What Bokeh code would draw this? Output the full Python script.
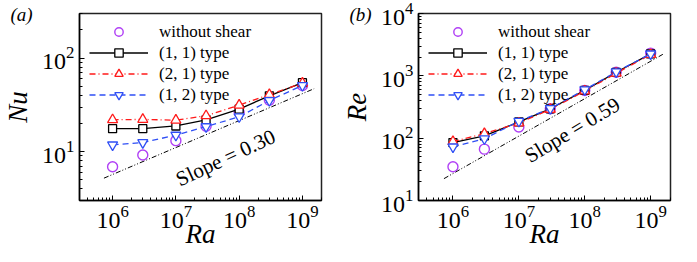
import math
from bokeh.plotting import figure
from bokeh.models import Range1d, FixedTicker, Legend, LegendItem, Label
from bokeh.layouts import row
from bokeh.embed import file_html
from bokeh.resources import INLINE

# ---- data ----
ra = [1e6, 3e6, 1e7, 3e7, 1e8, 3e8, 1e9]
nu_noshear = [6.9, 9.2, 13.1, 18.7, 26.2, 35.5, 51.0]
nu_11 = [17.6, 17.6, 18.8, 21.9, 28.5, 39.5, 54.6]
nu_21 = [21.9, 22.1, 21.7, 24.2, 31.4, 40.7, 54.0]
nu_12 = [11.8, 12.5, 15.0, 18.5, 23.6, 35.2, 51.0]
re_noshear = [34.8, 66.7, 151, 296, 582, 1140, 2317]
re_11 = [85, 109, 182, 296, 585, 1140, 2250]
re_21 = [88, 118, 175, 290, 570, 1100, 2200]
re_12 = [72.5, 98, 187, 300, 600, 1160, 2250]
slope_ra = [7.3e5, 1.53e9]
slope_nu = [5.2, 47.1]
slope_re = [22.4, 2214]

series_labels = ["without shear", "(1, 1) type", "(2, 1) type", "(1, 2) type"]
x_major = [1e6, 1e7, 1e8, 1e9]
nu_major = [10, 100]
re_major = [10, 100, 1000, 10000]

FONT = "Liberation Serif"
PURPLE = "#b040f5"
RED = "#ff1a1a"
BLUE = "#2f4ff5"


def minors(lo_exp, hi_exp, lo, hi):
    out = []
    for e in range(lo_exp, hi_exp + 1):
        for m in range(2, 10):
            v = m * 10.0 ** e
            if lo <= v <= hi:
                out.append(v)
    return out


def make_panel(yvals, ylab, yrange, ymajor, slope_y, slope_text, slope_pos,
               slope_angle, tag, width, mbl, mbr):
    xr = (3e5, 2e9)
    p = figure(width=width, height=258, x_axis_type="log", y_axis_type="log",
               x_range=Range1d(*xr), y_range=Range1d(*yrange),
               output_backend="svg", toolbar_location=None,
               min_border_left=mbl, min_border_right=mbr,
               min_border_top=13, min_border_bottom=58)
    p.grid.visible = False
    p.outline_line_color = "#222222"
    p.outline_line_width = 1.5
    p.xaxis[0].ticker = FixedTicker(ticks=x_major,
                                    minor_ticks=minors(5, 9, *xr))
    p.yaxis[0].ticker = FixedTicker(ticks=ymajor,
                                    minor_ticks=minors(0, 4, *yrange))
    for ax in (p.xaxis[0], p.yaxis[0]):
        ax.major_tick_in = 5
        ax.major_tick_out = 0
        ax.minor_tick_in = 3
        ax.minor_tick_out = 0
        ax.axis_line_width = 1.5
        ax.axis_line_color = "black"
        ax.major_tick_line_color = "black"
        ax.minor_tick_line_color = "black"
        ax.major_label_text_font = FONT
        ax.major_label_text_font_size = "24px"
        ax.major_label_text_color = "black"
        ax.axis_label_text_font = FONT
        ax.axis_label_text_font_style = "italic"
        ax.axis_label_text_font_size = "27px"
        ax.axis_label_text_color = "black"
    p.xaxis.axis_label = "Ra"
    p.yaxis.axis_label = ylab
    p.xaxis.major_label_standoff = 5
    p.xaxis.axis_label_standoff = -12
    p.yaxis.major_label_standoff = 5
    p.yaxis.axis_label_standoff = 6

    # panel tag as title
    p.title.text = tag
    p.title.align = "left"
    p.title.offset = -69
    p.title.standoff = -22
    p.title.text_line_height = 1.0
    p.title.text_font = FONT
    p.title.text_font_style = "italic"
    p.title.text_font_size = "19px"
    p.title.text_color = "black"

    # slope line
    p.line(slope_ra, slope_y, line_color="black", line_width=1,
           line_dash="5 2 1 2 1 2")

    y0, y1, y2, y3 = yvals
    r0 = p.scatter(ra, y0, marker="circle", size=10, fill_color=None,
                   line_color=PURPLE, line_width=1.4)
    l1 = p.line(ra, y1, line_color="black", line_width=1.3)
    s1 = p.scatter(ra, y1, marker="square", size=8, fill_color="white",
                   line_color="black", line_width=1.3)
    l2 = p.line(ra, y2, line_color=RED, line_width=1.3, line_dash="6 3 1 3")
    s2 = p.scatter(ra, y2, marker="triangle", size=10, fill_color="white",
                   line_color=RED, line_width=1.3)
    l3 = p.line(ra, y3, line_color=BLUE, line_width=1.3, line_dash="6 4")
    s3 = p.scatter(ra, y3, marker="inverted_triangle", size=10, fill_color="white",
                   line_color=BLUE, line_width=1.3)

    items = [
        LegendItem(label=series_labels[0], renderers=[r0]),
        LegendItem(label=series_labels[1], renderers=[l1, s1]),
        LegendItem(label=series_labels[2], renderers=[l2, s2]),
        LegendItem(label=series_labels[3], renderers=[l3, s3]),
    ]
    leg = Legend(items=items, location=(10, 95), padding=0, margin=0, spacing=-1,
                 glyph_width=59, glyph_height=21, label_height=21,
                 label_standoff=11, background_fill_alpha=0,
                 border_line_alpha=0, label_text_font=FONT,
                 label_text_line_height=1.0,
                 label_text_font_size="17px", label_text_color="black")
    p.add_layout(leg)

    p.add_layout(Label(x=slope_pos[0], y=slope_pos[1], text=slope_text,
                       angle=math.radians(slope_angle), text_align="center",
                       text_baseline="middle", text_font=FONT,
                       text_font_size="21px", text_color="black"))
    return p


pa = make_panel([nu_noshear, nu_11, nu_21, nu_12], "Nu", (3, 300), nu_major,
                slope_nu, "Slope = 0.30", (6.1e7, 8.6), 25, "(a)", 339, 69, 18)
pb = make_panel([re_noshear, re_11, re_21, re_12], "Re", (10, 10001), re_major,
                slope_re, "Slope = 0.59", (6.5e7, 135), 31, "(b)", 341, 79, 10)

layout = row(pa, pb, spacing=0)
open("out.html", "w").write(file_html(layout, INLINE))
